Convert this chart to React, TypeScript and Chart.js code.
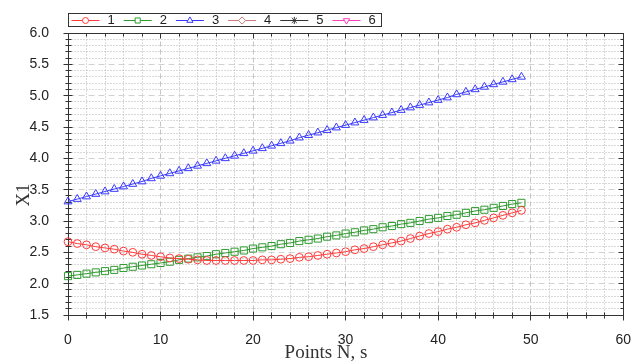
import React, { useEffect, useRef } from 'react';
import { Chart, registerables } from 'chart.js';
import { drawPoint } from 'chart.js/helpers';

Chart.register(...registerables);

const X_POINTS = [
  0, 1, 2, 3, 4, 5, 6, 7, 8, 9, 10, 11, 12, 13, 14, 15, 16, 17, 18, 19, 20, 21, 22, 23, 24,
  25, 26, 27, 28, 29, 30, 31, 32, 33, 34, 35, 36, 37, 38, 39, 40, 41, 42, 43, 44, 45, 46, 47, 48, 49,
];

const SERIES_1 = [
  2.67, 2.64, 2.62, 2.59, 2.57, 2.55, 2.52, 2.50, 2.47, 2.45, 2.43, 2.41, 2.40, 2.39, 2.38, 2.37,
  2.37, 2.37, 2.37, 2.37, 2.37, 2.38, 2.38, 2.39, 2.40, 2.42, 2.43, 2.45, 2.47, 2.49, 2.51, 2.54,
  2.56, 2.59, 2.62, 2.65, 2.68, 2.72, 2.76, 2.80, 2.83, 2.87, 2.90, 2.94, 2.97, 3.01, 3.05, 3.09,
  3.13, 3.17,
];

const SERIES_2 = [
  2.12, 2.14, 2.16, 2.18, 2.20, 2.22, 2.25, 2.27, 2.29, 2.31, 2.33, 2.35, 2.38, 2.40, 2.42, 2.44,
  2.47, 2.49, 2.51, 2.53, 2.56, 2.58, 2.60, 2.63, 2.65, 2.68, 2.70, 2.72, 2.75, 2.77, 2.80, 2.82,
  2.85, 2.87, 2.90, 2.92, 2.95, 2.97, 3.00, 3.03, 3.05, 3.08, 3.10, 3.13, 3.16, 3.18, 3.21, 3.24,
  3.27, 3.29,
];

const SERIES_3 = [
  3.31, 3.35, 3.39, 3.43, 3.47, 3.51, 3.55, 3.59, 3.63, 3.68, 3.72, 3.76, 3.80, 3.84, 3.88, 3.92,
  3.96, 4.00, 4.04, 4.08, 4.12, 4.16, 4.20, 4.24, 4.28, 4.33, 4.37, 4.41, 4.45, 4.49, 4.53, 4.57,
  4.61, 4.65, 4.69, 4.73, 4.77, 4.81, 4.85, 4.89, 4.93, 4.97, 5.02, 5.06, 5.10, 5.14, 5.18, 5.22,
  5.26, 5.30,
];

const SERIES_4: number[] = [];
const SERIES_5: number[] = [];
const SERIES_6: number[] = [];

const SERIES_LABELS = ['1', '2', '3', '4', '5', '6'];
const Y_TICK_LABELS = ['1.5', '2.0', '2.5', '3.0', '3.5', '4.0', '4.5', '5.0', '5.5', '6.0'];
const X_TICK_LABELS = ['0', '10', '20', '30', '40', '50', '60'];
const X_TITLE = 'Points N, s';
const Y_TITLE = 'X1';

const SERIES_VALUES = [SERIES_1, SERIES_2, SERIES_3, SERIES_4, SERIES_5, SERIES_6];
const SERIES_COLORS = ['#ff3b3b', '#2f9a2f', '#3a3aff', '#cc7a7a', '#333333', '#ff3fbf'];
const SERIES_POINT_STYLES = ['circle', 'rect', 'triangle', 'rectRot', 'star', 'triangle'];
const SERIES_ROTATIONS = [0, 0, 0, 0, 0, 180];
const SERIES_RADII = [3.9, 5, 4.6, 4, 4, 4.6];

const SANS = '"Liberation Sans", Arial, sans-serif';
const SERIF = '"Liberation Serif", "Times New Roman", serif';

const framePlugin = {
  id: 'frameAndGrid',
  beforeDatasetsDraw(chart: any) {
    const { ctx, chartArea, scales } = chart;
    const { left, right, top, bottom } = chartArea;
    const xs = scales.x;
    const ys = scales.y;
    const L = Math.floor(left) + 0.5;
    const R = Math.floor(right) + 0.5;
    const T = Math.floor(top) + 0.5;
    const B = Math.floor(bottom) + 0.5;
    ctx.save();
    ctx.lineWidth = 1;
    for (let i = 16; i < 60; i++) {
      const py = Math.floor(ys.getPixelForValue(i / 10)) + 0.5;
      const major = i % 5 === 0;
      ctx.strokeStyle = major ? '#d2d2d2' : '#b2b2b2';
      ctx.setLineDash(major ? [6, 4] : [1, 2]);
      ctx.beginPath();
      ctx.moveTo(L, py);
      ctx.lineTo(R, py);
      ctx.stroke();
    }
    for (let i = 2; i < 60; i += 2) {
      const px = Math.floor(xs.getPixelForValue(i)) + 0.5;
      const major = i % 10 === 0;
      ctx.strokeStyle = major ? '#c4c4c4' : '#b2b2b2';
      ctx.setLineDash(major ? [5, 3] : [1, 2]);
      ctx.beginPath();
      ctx.moveTo(px, T);
      ctx.lineTo(px, B);
      ctx.stroke();
    }
    ctx.setLineDash([]);
    ctx.strokeStyle = '#333333';
    ctx.strokeRect(L, T, R - L, B - T);
    ctx.beginPath();
    for (let i = 15; i <= 60; i++) {
      const py = Math.floor(ys.getPixelForValue(i / 10)) + 0.5;
      const major = i % 5 === 0;
      ctx.moveTo(L - (major ? 5 : 3), py);
      ctx.lineTo(L + (major ? 4 : 3), py);
      ctx.moveTo(R - (major ? 5 : 3), py);
      ctx.lineTo(R, py);
    }
    for (let i = 0; i <= 60; i += 2) {
      const px = Math.floor(xs.getPixelForValue(i)) + 0.5;
      const major = i % 10 === 0;
      ctx.moveTo(px, B - (major ? 4 : 3));
      ctx.lineTo(px, B + (major ? 5 : 3));
      ctx.moveTo(px, T);
      ctx.lineTo(px, T + (major ? 5 : 3));
    }
    ctx.stroke();
    ctx.restore();
  },
  afterDraw(chart: any) {
    const { ctx } = chart;
    ctx.save();
    ctx.fillStyle = '#333333';
    ctx.font = `19px ${SERIF}`;
    ctx.textAlign = 'center';
    ctx.textBaseline = 'alphabetic';
    ctx.fillText(X_TITLE, 326, 358);
    ctx.save();
    ctx.translate(29, 195);
    ctx.rotate(-Math.PI / 2);
    ctx.textBaseline = 'alphabetic';
    ctx.fillText(Y_TITLE, 0, 0);
    ctx.restore();

    const boxL = 68.5;
    const boxT = 13.5;
    const boxR = 381.5;
    const boxB = 26.5;
    ctx.fillStyle = '#ffffff';
    ctx.fillRect(boxL, boxT, boxR - boxL, boxB - boxT);
    ctx.strokeStyle = '#333333';
    ctx.lineWidth = 1;
    ctx.strokeRect(boxL, boxT, boxR - boxL, boxB - boxT);
    const cy = 20;
    chart.data.datasets.forEach((ds: any, i: number) => {
      const x0 = 71.5 + 52.2 * i;
      ctx.strokeStyle = ds.borderColor;
      ctx.lineWidth = 1;
      ctx.beginPath();
      ctx.moveTo(x0, cy + 0.5);
      ctx.lineTo(x0 + 28, cy + 0.5);
      ctx.stroke();
      ctx.fillStyle = '#ffffff';
      drawPoint(ctx, {
        pointStyle: ds.pointStyle,
        rotation: ds.rotation || 0,
        radius: ds.pointStyle === 'circle' ? 3 : 3.6,
        borderWidth: 1,
      } as any, x0 + 14, cy + 0.5);
      ctx.fillStyle = '#222222';
      ctx.font = `13px ${SANS}`;
      ctx.textAlign = 'left';
      ctx.textBaseline = 'middle';
      ctx.fillText(ds.label, x0 + 36, cy + 0.5);
    });
    ctx.restore();
  },
};

export default function App() {
  const canvasRef = useRef<HTMLCanvasElement | null>(null);

  useEffect(() => {
    document.body.style.margin = '0';
    const canvas = canvasRef.current;
    if (!canvas) return;
    const datasets = SERIES_VALUES.map((vals, i) => ({
      label: SERIES_LABELS[i],
      data: vals.map((v, j) => ({ x: X_POINTS[j], y: v })),
      borderColor: SERIES_COLORS[i],
      backgroundColor: 'rgba(0,0,0,0)',
      pointBorderColor: SERIES_COLORS[i],
      pointBackgroundColor: 'rgba(0,0,0,0)',
      pointStyle: SERIES_POINT_STYLES[i],
      rotation: SERIES_ROTATIONS[i],
      pointRotation: SERIES_ROTATIONS[i],
      pointRadius: SERIES_RADII[i],
      pointBorderWidth: 1,
      borderWidth: 1,
      tension: 0,
      fill: false,
      clip: false,
    }));
    const chart = new Chart(canvas, {
      type: 'line',
      data: { datasets },
      options: {
        animation: false,
        responsive: true,
        maintainAspectRatio: false,
        layout: { padding: { top: 33, right: 12.5, left: 0, bottom: 0 } },
        plugins: { legend: { display: false }, tooltip: { enabled: false } },
        scales: {
          x: {
            type: 'linear',
            min: 0,
            max: 60,
            afterFit: (s: any) => { s.height = 46; },
            grid: { display: false },
            border: { display: false },
            afterBuildTicks: (s: any) => { s.ticks = X_TICK_LABELS.map((t) => ({ value: Number(t) })); },
            ticks: {
              autoSkip: false,
              maxRotation: 0,
              padding: 9,
              color: '#222222',
              font: { family: SANS, size: 14 },
              callback: (v: any) => String(v),
            },
          },
          y: {
            type: 'linear',
            min: 1.5,
            max: 6,
            afterFit: (s: any) => { s.width = 68; },
            grid: { display: false },
            border: { display: false },
            afterBuildTicks: (s: any) => { s.ticks = Y_TICK_LABELS.map((t) => ({ value: Number(t) })); },
            ticks: {
              autoSkip: false,
              padding: 11,
              color: '#222222',
              font: { family: SANS, size: 14 },
              callback: (v: any) => Number(v).toFixed(1),
            },
          },
        },
      },
      plugins: [framePlugin],
    } as any);
    return () => chart.destroy();
  }, []);

  return (
    <div style={{ position: 'fixed', left: 0, top: 0, width: 640, height: 361, background: '#ffffff' }}>
      <canvas ref={canvasRef} />
    </div>
  );
}
